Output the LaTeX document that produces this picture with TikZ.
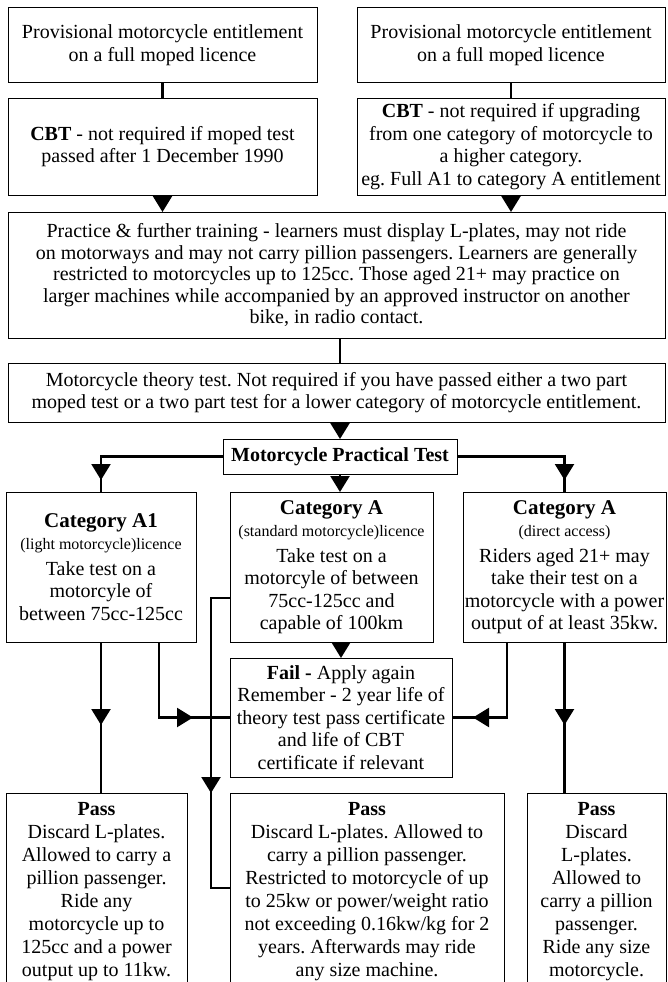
\documentclass[tikz,border=0pt]{standalone}
\usepackage{fontspec}
\setmainfont{Liberation Serif}
\usetikzlibrary{arrows.meta,decorations.markings,calc}
\frenchspacing
\begin{document}
\begin{tikzpicture}[x=1pt,y=-1pt,
  box/.style={draw=black, line width=1pt, inner sep=0pt, outer sep=0pt, align=center,
    font=\fontsize{20}{22.5}\selectfont},
  conn/.style={line width=2.3pt},
  endarrow/.style={-{Triangle[width=19pt,length=16pt]}},
  midarrow/.style={postaction={decorate}, decoration={markings,
    mark=at position #1 with {\arrow{Triangle[width=19pt,length=16pt]}}}},
]
\useasboundingbox (0,0) rectangle (667,982);
\clip (0,0) rectangle (667,982);
\fill[white] (0,0) rectangle (667,982);

\node[box, minimum width=309, minimum height=74] (top1) at (162.5,45)
  {Provisional motorcycle entitlement\\on a full moped licence};
\node[box, minimum width=308, minimum height=74] (top2) at (511,45)
  {Provisional motorcycle entitlement\\on a full moped licence};
\node[box, minimum width=309, minimum height=97] (cbt1) at (162.5,146.5)
  {\textbf{CBT} - not required if moped test\\passed after 1 December 1990};
\node[box, minimum width=308, minimum height=97] (cbt2) at (511,146.5)
  {\textbf{CBT} - not required if upgrading\\from one category of motorcycle to\\a higher category.\\eg. Full A1 to category A entitlement};
\node[box, minimum width=657, minimum height=126, font=\fontsize{20}{21.5}\selectfont] (practice) at (336.5,275)
  {Practice \& further training - learners must display L-plates, may not ride\\
   on motorways and may not carry pillion passengers. Learners are generally\\
   restricted to motorcycles up to 125cc. Those aged 21+ may practice on\\
   larger machines while accompanied by an approved instructor on another\\
   bike, in radio contact.};
\node[box, minimum width=657, minimum height=59, font=\fontsize{20}{21.5}\selectfont] (theory) at (336.5,392.5)
  {Motorcycle theory test. Not required if you have passed either a two part\\
   moped test or a two part test for a lower category of motorcycle entitlement.};
\node[box, minimum width=234, minimum height=35] (practical) at (340,456.5)
  {\textbf{Motorcycle Practical Test}};
\node[box, minimum width=190, minimum height=150] (catA1) at (101,567)
  {{\fontsize{21}{22}\selectfont\bfseries Category A1}\\
   {\fontsize{16}{20}\selectfont (light motorcycle)licence}\\[3pt]
   Take test on a\\motorcyle of\\between 75cc-125cc};
\node[box, minimum width=203, minimum height=150] (catA) at (331.5,567)
  {{\fontsize{21}{22}\selectfont\bfseries Category A}\\
   {\fontsize{16}{20}\selectfont (standard motorcycle)licence}\\[3pt]
   Take test on a\\motorcyle of between\\75cc-125cc and\\capable of 100km};
\node[box, minimum width=203, minimum height=150] (catAd) at (564.5,567)
  {{\fontsize{21}{22}\selectfont\bfseries Category A}\\
   {\fontsize{16}{20}\selectfont (direct access)}\\[3pt]
   Riders aged 21+ may\\take their test on a\\motorcycle with a power\\output of at least 35kw.};
\node[box, minimum width=222, minimum height=119] (fail) at (341,717.5)
  {\textbf{Fail -} Apply again\\Remember - 2 year life of\\theory test pass certificate\\and life of CBT\\certificate if relevant};
\node[box, minimum width=181, minimum height=198, font=\fontsize{20}{23}\selectfont] (pass1) at (96.5,892)
  {\textbf{Pass}\\Discard L-plates.\\Allowed to carry a\\pillion passenger.\\Ride any\\motorcycle up to\\125cc and a power\\output up to 11kw.};
\node[box, minimum width=274, minimum height=198, font=\fontsize{20}{23}\selectfont] (pass2) at (367,892)
  {\textbf{Pass}\\Discard L-plates. Allowed to\\carry a pillion passenger.\\Restricted to motorcycle of up\\to 25kw or power/weight ratio\\not exceeding 0.16kw/kg for 2\\years. Afterwards may ride\\any size machine.};
\node[box, minimum width=139, minimum height=198, font=\fontsize{20}{23}\selectfont] (pass3) at (596.5,892)
  {\textbf{Pass}\\Discard\\L-plates.\\Allowed to\\carry a pillion\\passenger.\\Ride any size\\motorcycle.};

% connectors
\draw[conn] (top1.south) -- (cbt1.north);
\draw[conn] (top2.south) -- (cbt2.north);
\draw[conn, endarrow] (cbt1.south) -- (cbt1.south |- practice.north);
\draw[conn, endarrow] (cbt2.south) -- (cbt2.south |- practice.north);
\draw[conn] (practice.south -| practical.north) -- (theory.north -| practical.north);
\draw[conn, endarrow] (theory.south -| practical.north) -- (practical.north);
\draw[conn, midarrow=-12pt] (practical.west) -| (catA1.north);
\draw[conn, midarrow=-12pt] (practical.east) -| (catAd.north);
\draw[conn, endarrow] (practical.south) -- (practical.south |- catA.north);
\draw[conn, midarrow=-68pt] (catA1.south) -- (catA1.south |- pass1.north);
\draw[conn, midarrow=-68pt] (catAd.south) -- (catAd.south |- pass3.north);
\draw[conn, midarrow=-37pt] ([xshift=58pt]catA1.south) |- (fail.west);
\draw[conn, midarrow=-21pt] ([xshift=-57.5pt]catAd.south) |- (fail.east);
\draw[conn, endarrow] (fail.north |- catA.south) -- (fail.north);
\coordinate (p2in) at ([yshift=-95pt]pass2.north west);
\draw[conn, midarrow=-114pt] ([yshift=-31pt]catA.west) -- ++(-19,0) |- (p2in);
\end{tikzpicture}
\end{document}
